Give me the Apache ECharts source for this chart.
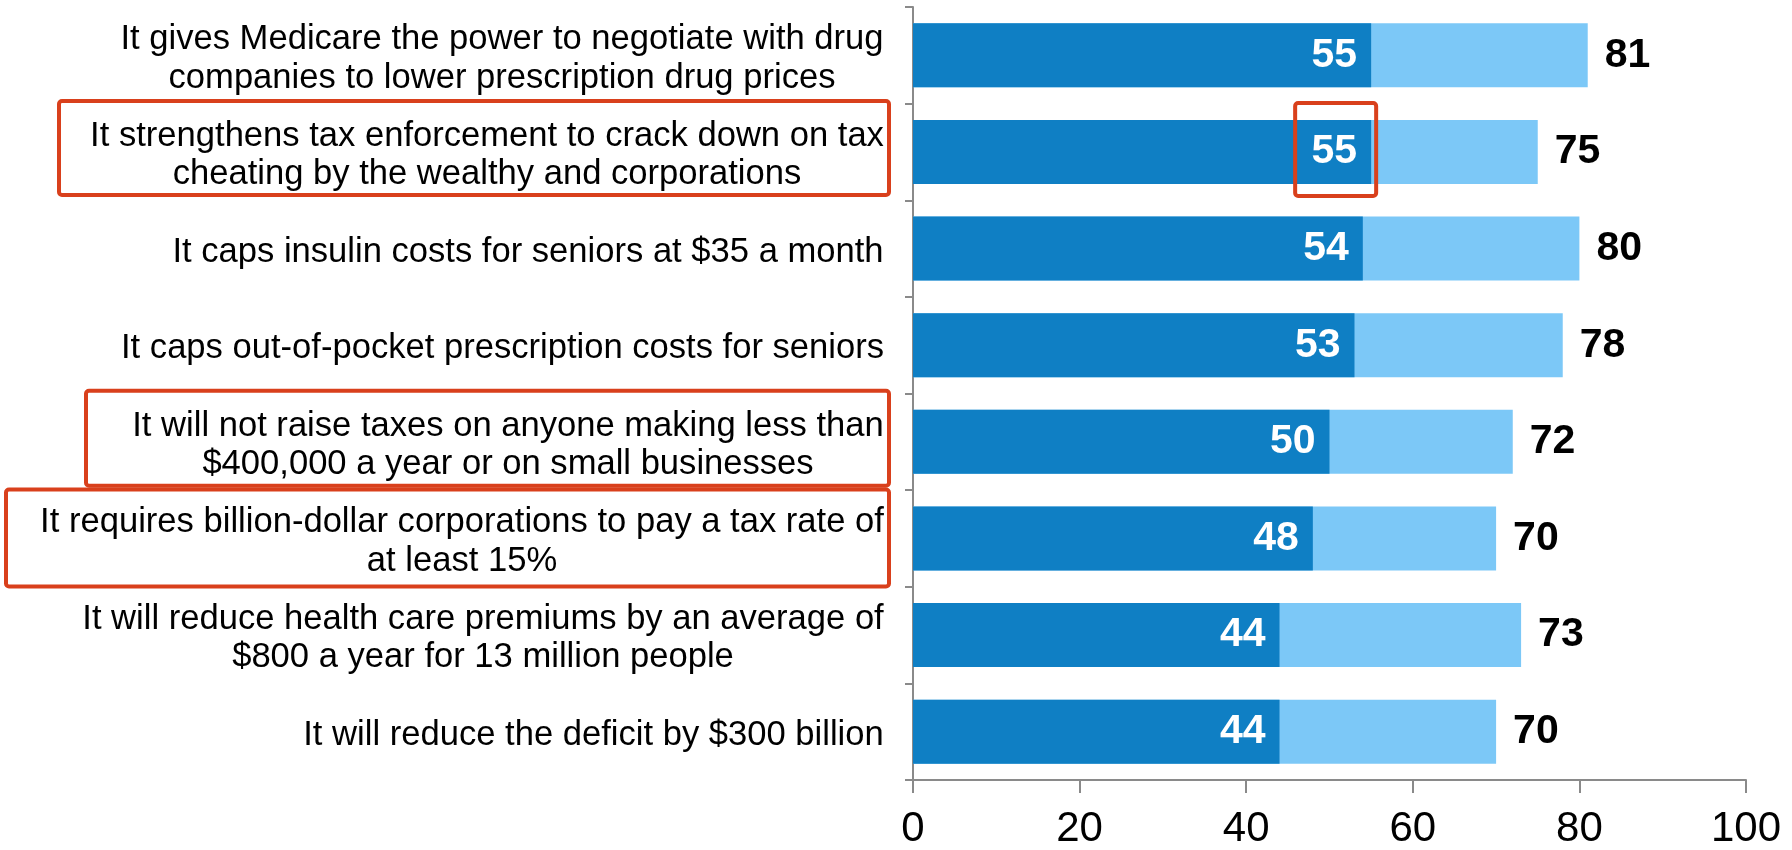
<!DOCTYPE html>
<html>
<head>
<meta charset="utf-8">
<script src="https://cdn.jsdelivr.net/npm/echarts@6/dist/echarts.min.js"></script>
<style>
  html, body { margin: 0; padding: 0; background: #fff; }
  #chart { width: 1792px; height: 850px; }
</style>
</head>
<body>
<div id="chart"></div>
<script>
// statements, top to bottom
var categories = [
  'It gives Medicare the power to negotiate with drug\ncompanies to lower prescription drug prices',
  'It strengthens tax enforcement to crack down on tax\ncheating by the wealthy and corporations',
  'It caps insulin costs for seniors at $35 a month',
  'It caps out-of-pocket prescription costs for seniors',
  'It will not raise taxes on anyone making less than\n$400,000 a year or on small businesses',
  'It requires billion-dollar corporations to pay a tax rate of\nat least 15%',
  'It will reduce health care premiums by an average of\n$800 a year for 13 million people',
  'It will reduce the deficit by $300 billion'
];
// dark part of the bar
var strongValues = [55, 55, 54, 53, 50, 48, 44, 44];
// full bar length
var totalValues = [81, 75, 80, 78, 72, 70, 73, 70];
var xTicks = [0, 20, 40, 60, 80, 100];

var FONT = '"Liberation Sans", Arial, Helvetica, sans-serif';
var LABEL_SIZE = 34.6;
var DARK = '#0f7fc4';
var LIGHT = '#7cc8f7';
var RED = '#d9401c';

// each label block: lines centered inside the widest line, block right aligned
var ctx = document.createElement('canvas').getContext('2d');
ctx.font = LABEL_SIZE + 'px ' + FONT;
var rich = {};
categories.forEach(function (c, i) {
  var w = Math.max.apply(null, c.split('\n').map(function (l) { return ctx.measureText(l).width; }));
  rich['l' + i] = {
    width: Math.ceil(w) + 2,
    align: 'center',
    fontSize: LABEL_SIZE,
    fontFamily: FONT,
    color: '#000',
    lineHeight: 38.5
  };
});

var chart = echarts.init(document.getElementById('chart'));
var option = {
  animation: false,
  grid: {
    left: 913,
    right: 46,
    top: 7,
    bottom: 67
  },
  xAxis: {
    type: 'value',
    min: 0,
    max: 100,
    interval: 20,
    splitLine: { show: false },
    axisLine: { show: true, lineStyle: { color: '#8a8a8a', width: 2 } },
    axisTick: { show: true, length: 13, lineStyle: { color: '#8a8a8a', width: 2 } },
    axisLabel: {
      margin: 28,
      fontSize: 42,
      fontFamily: FONT,
      color: '#000',
      formatter: function (v) { return xTicks.indexOf(v) >= 0 ? String(v) : ''; }
    }
  },
  yAxis: {
    type: 'category',
    inverse: true,
    data: categories,
    axisLine: { show: true, lineStyle: { color: '#8a8a8a', width: 2 } },
    axisTick: { show: true, length: 8, lineStyle: { color: '#8a8a8a', width: 2 } },
    axisLabel: {
      margin: 28,
      align: 'right',
      padding: [7, 0, 0, 0],
      formatter: function (v, idx) {
        return v.split('\n').map(function (l) { return '{l' + idx + '|' + l + '}'; }).join('\n');
      },
      rich: rich
    }
  },
  series: [
    {
      name: 'total',
      type: 'bar',
      data: totalValues,
      barWidth: 64,
      barGap: '-100%',
      itemStyle: { color: LIGHT },
      label: {
        show: true,
        position: 'right',
        distance: 17,
        fontSize: 41,
        fontWeight: 'bold',
        fontFamily: FONT,
        color: '#000'
      },
      z: 2
    },
    {
      name: 'strong',
      type: 'bar',
      data: strongValues,
      barWidth: 64,
      barGap: '-100%',
      itemStyle: { color: DARK },
      label: {
        show: true,
        position: 'insideRight',
        distance: 14,
        fontSize: 41,
        fontWeight: 'bold',
        fontFamily: FONT,
        color: '#fff'
      },
      z: 3
    }
  ]
};
chart.setOption(option);

// red highlight boxes (annotations), offsets relative to the category centre
var labelBoxes = [
  { idx: 1, left: 59, top: -51, bottom: 43 },
  { idx: 4, left: 86, top: -51, bottom: 44 },
  { idx: 5, left: 6, top: -49, bottom: 48 }
];
var graphics = [];
labelBoxes.forEach(function (b) {
  var cy = chart.convertToPixel({ yAxisIndex: 0 }, b.idx);
  var right = option.grid.left - 24;
  graphics.push({
    type: 'rect',
    shape: { x: b.left, y: cy + b.top, width: right - b.left, height: b.bottom - b.top, r: 3 },
    style: { fill: 'none', stroke: RED, lineWidth: 4 },
    z: 10
  });
});
var p55 = chart.convertToPixel({ xAxisIndex: 0, yAxisIndex: 0 }, [strongValues[1], 1]);
graphics.push({
  type: 'rect',
  shape: { x: p55[0] - 76, y: p55[1] - 49, width: 81, height: 93, r: 3 },
  style: { fill: 'none', stroke: RED, lineWidth: 4 },
  z: 10
});
chart.setOption({ graphic: graphics });
</script>
</body>
</html>
